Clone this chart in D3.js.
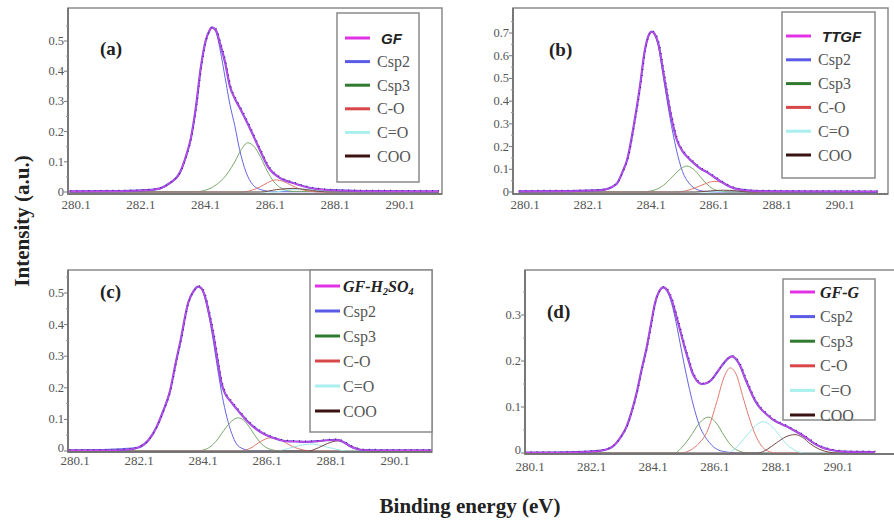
<!DOCTYPE html>
<html>
<head>
<meta charset="utf-8">
<script src="https://cdn.jsdelivr.net/npm/d3@7"></script>
<style>
  body { margin: 0; background: #fff; }
  svg { display: block; }
</style>
</head>
<body>
<svg id="chart" width="894" height="525"></svg>
<script>
// ---- data (binding energy eV, intensity a.u.) ----
const xTicks = [280.1, 282.1, 284.1, 286.1, 288.1, 290.1];
const panelTags = ["(a)", "(b)", "(c)", "(d)"];
const sampleNames = ["GF", "TTGF", "GF-H2SO4", "GF-G"];
const componentNames = ["Csp2", "Csp3", "C-O", "C=O", "COO"];
const yTickMax = [0.5, 0.7, 0.5, 0.3];

// (a) GF
const gfTotal = [[279.9,0.002],[281.5,0.003],[282.3,0.006],[282.7,0.012],[283.0,0.03],[283.3,0.063],[283.5,0.12],[283.65,0.18],[283.8,0.28],[283.95,0.41],[284.1,0.5],[284.22,0.535],[284.3,0.545],[284.42,0.535],[284.55,0.49],[284.7,0.43],[284.85,0.35],[285.0,0.31],[285.15,0.28],[285.45,0.215],[285.75,0.145],[286.05,0.08],[286.4,0.046],[286.8,0.03],[287.3,0.014],[288.0,0.006],[289.0,0.003],[291.3,0.002]];
const gfCsp2 = [[279.9,0.002],[282.3,0.005],[282.7,0.011],[283.0,0.028],[283.3,0.06],[283.5,0.118],[283.65,0.178],[283.8,0.278],[283.95,0.408],[284.1,0.498],[284.22,0.533],[284.3,0.543],[284.42,0.53],[284.55,0.47],[284.7,0.38],[284.85,0.29],[285.0,0.22],[285.15,0.14],[285.35,0.065],[285.55,0.025],[285.8,0.008],[286.2,0.001],[291.3,0]];
const gfCsp3 = [[279.9,0],[283.8,0.001],[284.2,0.01],[284.5,0.03],[284.8,0.065],[285.0,0.1],[285.2,0.14],[285.4,0.163],[285.6,0.15],[285.8,0.115],[286.0,0.07],[286.2,0.035],[286.45,0.012],[286.8,0.002],[291.3,0]];
const gfCO = [[279.9,0],[285.2,0],[285.5,0.005],[285.8,0.018],[286.0,0.03],[286.25,0.04],[286.5,0.035],[286.75,0.022],[287.0,0.01],[287.3,0.003],[287.6,0],[291.3,0]];
const gfC2O = [[279.9,0],[286.2,0],[286.6,0.006],[287.0,0.01],[287.4,0.007],[287.8,0.002],[288.2,0],[291.3,0]];
const gfCOO = [[279.9,0],[285.8,0],[286.3,0.008],[286.8,0.012],[287.2,0.008],[287.6,0.002],[288.0,0],[291.3,0]];

// (b) TTGF
const ttgfTotal = [[279.9,0.003],[281.5,0.004],[282.5,0.008],[283.0,0.035],[283.2,0.09],[283.35,0.145],[283.55,0.29],[283.75,0.465],[283.9,0.62],[284.0,0.68],[284.12,0.706],[284.22,0.695],[284.33,0.655],[284.5,0.52],[284.7,0.36],[284.92,0.23],[285.1,0.18],[285.25,0.155],[285.45,0.128],[285.66,0.104],[285.9,0.085],[286.1,0.066],[286.3,0.048],[286.5,0.031],[286.75,0.016],[287.0,0.009],[287.5,0.004],[288.5,0.003],[291.3,0.002]];
const ttgfCsp2 = [[279.9,0.003],[281.5,0.004],[282.5,0.008],[283.0,0.034],[283.2,0.089],[283.35,0.144],[283.55,0.289],[283.75,0.463],[283.9,0.618],[284.0,0.678],[284.12,0.703],[284.22,0.69],[284.33,0.645],[284.5,0.5],[284.7,0.33],[284.9,0.19],[285.1,0.09],[285.3,0.04],[285.5,0.015],[285.8,0.003],[286.2,0],[291.3,0]];
const ttgfCsp3 = [[279.9,0],[283.8,0],[284.2,0.008],[284.5,0.03],[284.8,0.07],[285.05,0.103],[285.24,0.114],[285.45,0.1],[285.65,0.07],[285.85,0.038],[286.05,0.015],[286.3,0.004],[286.6,0],[291.3,0]];
const ttgfCO = [[279.9,0],[284.9,0],[285.2,0.005],[285.5,0.018],[285.8,0.035],[286.1,0.047],[286.35,0.042],[286.6,0.025],[286.85,0.01],[287.1,0.003],[287.4,0],[291.3,0]];
const ttgfC2O = [[279.9,0],[286.0,0],[286.5,0.006],[286.9,0.008],[287.3,0.004],[287.7,0],[291.3,0]];
const ttgfCOO = [[279.9,0],[285.5,0],[286.0,0.005],[286.4,0.008],[286.8,0.005],[287.2,0],[291.3,0]];

// (c) GF-H2SO4
const acidTotal = [[279.9,0.002],[281.0,0.002],[281.7,0.004],[282.1,0.012],[282.4,0.035],[282.65,0.076],[282.85,0.125],[283.07,0.19],[283.25,0.28],[283.4,0.35],[283.64,0.47],[283.8,0.505],[283.95,0.52],[284.05,0.515],[284.16,0.49],[284.3,0.43],[284.42,0.37],[284.55,0.29],[284.68,0.214],[284.8,0.18],[284.94,0.16],[285.1,0.14],[285.26,0.12],[285.45,0.098],[285.67,0.077],[285.9,0.06],[286.09,0.05],[286.4,0.038],[286.71,0.031],[287.0,0.03],[287.34,0.029],[287.7,0.031],[287.97,0.034],[288.28,0.035],[288.5,0.028],[288.7,0.015],[288.9,0.007],[289.11,0.003],[290.0,0.002],[291.3,0.002]];
const acidCsp2 = [[279.9,0.002],[282.1,0.011],[282.4,0.034],[282.65,0.075],[282.85,0.123],[283.07,0.188],[283.25,0.278],[283.4,0.348],[283.64,0.468],[283.8,0.503],[283.95,0.518],[284.05,0.512],[284.16,0.485],[284.3,0.42],[284.42,0.35],[284.55,0.265],[284.7,0.175],[284.85,0.105],[285.0,0.055],[285.15,0.022],[285.35,0.007],[285.6,0.001],[291.3,0]];
const acidCsp3 = [[279.9,0],[283.9,0],[284.2,0.006],[284.5,0.03],[284.75,0.065],[285.0,0.095],[285.2,0.105],[285.4,0.095],[285.6,0.068],[285.8,0.038],[286.0,0.016],[286.25,0.004],[286.5,0],[291.3,0]];
const acidCO = [[279.9,0],[285.3,0],[285.6,0.01],[285.9,0.03],[286.2,0.042],[286.45,0.038],[286.7,0.025],[286.95,0.012],[287.2,0.004],[287.5,0],[291.3,0]];
const acidC2O = [[279.9,0],[286.4,0],[286.8,0.009],[287.2,0.019],[287.5,0.022],[287.8,0.017],[288.2,0.007],[288.6,0],[291.3,0]];
const acidCOO = [[279.9,0],[287.4,0],[287.7,0.01],[288.0,0.024],[288.3,0.032],[288.55,0.026],[288.8,0.012],[289.1,0.003],[289.4,0],[291.3,0]];

// (d) GF-G
const glyTotal = [[279.9,0.001],[281.0,0.001],[282.0,0.003],[282.4,0.005],[282.8,0.015],[283.05,0.035],[283.24,0.058],[283.4,0.09],[283.56,0.13],[283.72,0.18],[283.89,0.23],[284.03,0.28],[284.16,0.326],[284.3,0.352],[284.43,0.36],[284.57,0.352],[284.7,0.333],[284.84,0.3],[284.97,0.268],[285.1,0.235],[285.24,0.203],[285.37,0.175],[285.51,0.158],[285.68,0.15],[285.84,0.152],[286.0,0.16],[286.16,0.174],[286.33,0.19],[286.49,0.203],[286.65,0.21],[286.78,0.205],[286.92,0.19],[287.08,0.163],[287.24,0.138],[287.4,0.115],[287.57,0.098],[287.8,0.083],[288.0,0.072],[288.2,0.065],[288.43,0.058],[288.65,0.05],[288.87,0.042],[289.1,0.032],[289.3,0.022],[289.55,0.013],[289.84,0.007],[290.3,0.003],[291.3,0.002]];
const glyCsp2 = [[279.9,0.001],[282.0,0.003],[282.4,0.005],[282.8,0.015],[283.05,0.035],[283.24,0.058],[283.4,0.09],[283.56,0.13],[283.72,0.18],[283.89,0.23],[284.03,0.28],[284.16,0.326],[284.3,0.352],[284.43,0.36],[284.57,0.35],[284.7,0.325],[284.84,0.285],[284.97,0.24],[285.1,0.195],[285.24,0.15],[285.4,0.105],[285.6,0.06],[285.84,0.03],[286.0,0.017],[286.2,0.007],[286.5,0.002],[286.8,0],[291.3,0]];
const glyCsp3 = [[279.9,0],[284.8,0],[285.0,0.01],[285.3,0.035],[285.6,0.065],[285.89,0.078],[286.15,0.065],[286.4,0.038],[286.65,0.015],[286.9,0.004],[287.2,0],[291.3,0]];
const glyCO = [[279.9,0],[285.0,0],[285.3,0.006],[285.6,0.022],[285.84,0.045],[286.16,0.11],[286.4,0.165],[286.6,0.185],[286.8,0.17],[287.0,0.125],[287.2,0.08],[287.4,0.042],[287.6,0.017],[287.8,0.005],[288.1,0],[291.3,0]];
const glyC2O = [[279.9,0],[286.5,0],[286.8,0.012],[287.1,0.035],[287.4,0.058],[287.67,0.068],[287.95,0.058],[288.2,0.038],[288.45,0.018],[288.7,0.006],[289.0,0],[291.3,0]];
const glyCOO = [[279.9,0],[287.5,0],[287.8,0.008],[288.1,0.022],[288.4,0.035],[288.7,0.04],[288.95,0.034],[289.2,0.02],[289.5,0.008],[289.8,0.002],[290.1,0],[291.3,0]];

const totals = [gfTotal, ttgfTotal, acidTotal, glyTotal];
const components = [
  [gfCsp2, gfCsp3, gfCO, gfC2O, gfCOO],
  [ttgfCsp2, ttgfCsp3, ttgfCO, ttgfC2O, ttgfCOO],
  [acidCsp2, acidCsp3, acidCO, acidC2O, acidCOO],
  [glyCsp2, glyCsp3, glyCO, glyC2O, glyCOO]
];

// ---- styling / layout ----
const curveColors = ["#6464e2", "#78a868", "#e07a6c", "#9ee8ea", "#7a4646"];
const legendColors = ["#e033e6", "#5a5ae6", "#2f7a2f", "#d94848", "#a8f0ee", "#3a1212"];

const panels = [
  { frame: [68, 8, 442, 194], xr: [76, 400], yr: [192, 41], xLab: 209,
    leg: { x: 337, y: 13, w: 82, h: 169, row0: 38, step: 23.6, l0: 345, l1: 370, tx: 377 },
    tag: [100, 55] },
  { frame: [513, 8, 888, 194], xr: [525, 840], yr: [192, 33], xLab: 209,
    leg: { x: 782, y: 12, w: 93, h: 166, row0: 36, step: 23.8, l0: 786, l1: 811, tx: 818 },
    tag: [549, 56] },
  { frame: [68, 270, 432, 452], xr: [75, 395], yr: [451, 293], xLab: 465,
    leg: { x: 310, y: 270, w: 122, h: 162, row0: 286, step: 25, l0: 315, l1: 340, tx: 343 },
    tag: [100, 298] },
  { frame: [525, 270, 900, 454], xr: [530, 838], yr: [453, 315], xLab: 471,
    leg: { x: 783, y: 279, w: 92, h: 141, row0: 292, step: 24.6, l0: 790, l1: 815, tx: 820 },
    tag: [547, 318] }
];

const svg = d3.select("#chart");
const serif = "'Liberation Serif', 'Times New Roman', serif";
const sans = "'Liberation Sans', Arial, sans-serif";

panels.forEach(function (p, i) {
  const [left, top, right, bottom] = p.frame;
  const x = d3.scaleLinear().domain([280.1, 290.1]).range(p.xr);
  const y = d3.scaleLinear().domain([0, yTickMax[i]]).range(p.yr);

  const g = svg.append("g");

  g.append("clipPath").attr("id", "clip" + i)
    .append("rect")
    .attr("x", left).attr("y", top)
    .attr("width", right - left).attr("height", bottom - top);

  const line = d3.line()
    .x(d => x(d[0]))
    .y(d => y(d[1]))
    .curve(d3.curveMonotoneX);

  const plot = g.append("g").attr("clip-path", "url(#clip" + i + ")");

  // fitted components
  components[i].forEach(function (c, k) {
    plot.append("path")
      .attr("d", line(c))
      .attr("fill", "none")
      .attr("stroke", curveColors[k])
      .attr("stroke-width", 1);
  });

  // measured spectrum + envelope
  plot.append("path")
    .attr("d", line(totals[i]))
    .attr("fill", "none")
    .attr("stroke", "#7a45d8")
    .attr("stroke-width", 2.2);
  plot.append("path")
    .attr("d", line(totals[i]))
    .attr("fill", "none")
    .attr("stroke", "#e64ef0")
    .attr("stroke-width", 1.1)
    .attr("opacity", 0.75);
  plot.append("path")
    .attr("d", line(totals[i]))
    .attr("fill", "none")
    .attr("stroke", "#3a2a8a")
    .attr("stroke-width", 1.2)
    .attr("stroke-dasharray", "1,5")
    .attr("transform", "translate(0.8,-0.8)");

  // frame
  g.append("rect")
    .attr("x", left).attr("y", top)
    .attr("width", right - left).attr("height", bottom - top)
    .attr("fill", "none")
    .attr("stroke", "#8a8a8a")
    .attr("stroke-width", 1.5);
  g.append("path")
    .attr("d", `M${left},${top}V${bottom}H${right}`)
    .attr("fill", "none")
    .attr("stroke", "#6a6a6a")
    .attr("stroke-width", 1.5);

  // y ticks
  const yt = d3.range(0, yTickMax[i] + 1e-9, 0.1);
  const ym = d3.range(0.05, yTickMax[i] + 0.06, 0.1).filter(v => y(v) > top);
  g.selectAll(".ymaj").data(yt).enter().append("line")
    .attr("x1", left - 4).attr("x2", left)
    .attr("y1", d => y(d)).attr("y2", d => y(d))
    .attr("stroke", "#777");
  g.selectAll(".ymin").data(ym).enter().append("line")
    .attr("x1", left - 2).attr("x2", left)
    .attr("y1", d => y(d)).attr("y2", d => y(d))
    .attr("stroke", "#999");
  g.selectAll(".ylab").data(yt).enter().append("text")
    .attr("x", left - 4)
    .attr("y", d => y(d) + (d === 0 && i > 1 ? 1 : 4))
    .attr("text-anchor", "end")
    .attr("font-family", serif)
    .attr("font-size", 12.5)
    .attr("fill", "#555")
    .text(d => d === 0 ? "0" : d3.format(".1f")(d));

  // x tick labels
  g.selectAll(".xlab").data(xTicks).enter().append("text")
    .attr("x", d => x(d))
    .attr("y", p.xLab)
    .attr("text-anchor", "middle")
    .attr("font-family", serif)
    .attr("font-size", 13)
    .attr("fill", "#555")
    .text(d => d.toFixed(1));

  // panel tag
  g.append("text")
    .attr("x", p.tag[0]).attr("y", p.tag[1])
    .attr("font-family", serif)
    .attr("font-weight", "bold")
    .attr("font-size", 19)
    .attr("fill", "#222")
    .text(panelTags[i]);

  // legend
  const L = p.leg;
  const lg = g.append("g");
  lg.append("rect")
    .attr("x", L.x).attr("y", L.y).attr("width", L.w).attr("height", L.h)
    .attr("fill", "#fff")
    .attr("stroke", "#8a8a8a")
    .attr("stroke-width", 1.5);
  const labels = [sampleNames[i]].concat(componentNames);
  labels.forEach(function (name, k) {
    const ry = L.row0 + k * L.step;
    lg.append("line")
      .attr("x1", L.l0).attr("x2", L.l1)
      .attr("y1", ry).attr("y2", ry)
      .attr("stroke", legendColors[k])
      .attr("stroke-width", 3);
    const t = lg.append("text")
      .attr("x", L.tx).attr("y", ry + 5.5)
      .attr("fill", k === 0 ? "#222" : "#555")
      .attr("font-size", 16)
      .attr("font-family", serif);
    if (k === 0) {
      t.attr("font-weight", "bold").attr("font-style", "italic");
      if (i < 2) {
        t.attr("font-family", sans).attr("font-size", 15).attr("x", L.tx + 4).text(name);
      } else if (name === "GF-H2SO4") {
        t.append("tspan").text("GF-H");
        t.append("tspan").attr("font-size", 10).attr("dy", 3).text("2");
        t.append("tspan").attr("dy", -3).text("SO");
        t.append("tspan").attr("font-size", 10).attr("dy", 3).text("4");
      } else {
        t.text(name);
      }
    } else {
      t.text(name);
    }
  });
});

// axis titles
svg.append("text")
  .attr("transform", "translate(29,221) rotate(-90)")
  .attr("text-anchor", "middle")
  .attr("font-family", serif)
  .attr("font-weight", "bold")
  .attr("font-size", 21)
  .attr("fill", "#222")
  .text("Intensity (a.u.)");

svg.append("text")
  .attr("x", 470).attr("y", 513)
  .attr("text-anchor", "middle")
  .attr("font-family", serif)
  .attr("font-weight", "bold")
  .attr("font-size", 21)
  .attr("fill", "#222")
  .text("Binding energy (eV)");
</script>
</body>
</html>
